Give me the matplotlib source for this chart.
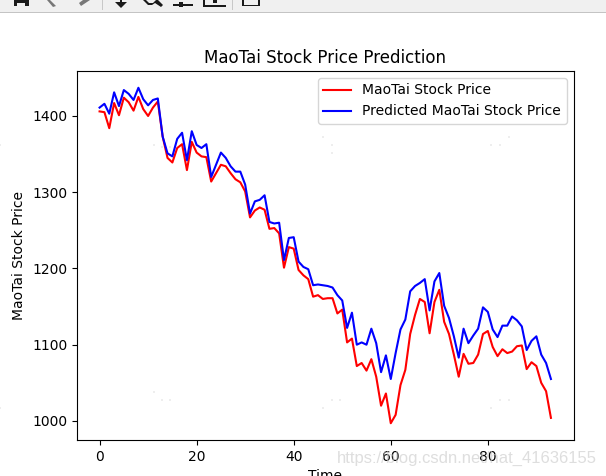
import matplotlib
matplotlib.use("Agg")
import matplotlib.pyplot as plt
from matplotlib.patches import Rectangle, Polygon, Wedge

TITLE = "MaoTai Stock Price Prediction"
XLABEL = "Time"
YLABEL = "MaoTai Stock Price"
ACTUAL_LABEL = "MaoTai Stock Price"
PREDICTED_LABEL = "Predicted MaoTai Stock Price"
WATERMARK = "https://blog.csdn.net/hat_41636155"

actual = [1406, 1405, 1384, 1417, 1401, 1424, 1418, 1407, 1425, 1409,
          1400, 1411, 1419, 1373, 1345, 1339, 1358, 1363, 1329, 1366,
          1352, 1347, 1346, 1314, 1325, 1336, 1334, 1325, 1317, 1313,
          1301, 1267, 1276, 1280, 1277, 1252, 1253, 1246, 1201, 1228,
          1226, 1198, 1191, 1186, 1163, 1165, 1160, 1161, 1161, 1141,
          1146, 1103, 1108, 1072, 1076, 1066, 1081, 1058, 1020, 1036,
          997, 1008, 1047, 1067, 1114, 1139, 1160, 1156, 1115, 1156,
          1172, 1130, 1114, 1087, 1058, 1088, 1075, 1076, 1087, 1114,
          1118, 1097, 1085, 1094, 1089, 1091, 1098, 1099, 1068, 1077,
          1072, 1050, 1039, 1004]
predicted = [1411, 1416, 1403, 1431, 1413, 1434, 1429, 1421, 1437, 1422,
             1414, 1421, 1423, 1373, 1351, 1347, 1370, 1378, 1342, 1380,
             1362, 1358, 1363, 1320, 1336, 1352, 1345, 1334, 1327, 1327,
             1310, 1272, 1288, 1290, 1296, 1261, 1259, 1260, 1211, 1240,
             1241, 1209, 1202, 1199, 1178, 1179, 1178, 1177, 1175, 1165,
             1158, 1122, 1142, 1100, 1103, 1100, 1121, 1102, 1064, 1086,
             1055, 1089, 1120, 1133, 1170, 1177, 1181, 1186, 1145, 1183,
             1194, 1151, 1135, 1111, 1083, 1121, 1102, 1112, 1121, 1149,
             1143, 1120, 1110, 1125, 1125, 1137, 1132, 1124, 1093, 1105,
             1111, 1087, 1076, 1055]

W, H = 606, 476
fig = plt.figure(figsize=(W / 100, H / 100), dpi=100)
L, R, T, B = 77, 573.5, 71, 440
ax = fig.add_axes([L / W, 1 - B / H, (R - L) / W, (B - T) / H])

ax.plot(range(len(actual)), actual, color="red", label=ACTUAL_LABEL)
ax.plot(range(len(predicted)), predicted, color="blue", label=PREDICTED_LABEL)
ax.set_title(TITLE)
ax.set_xlabel(XLABEL)
ax.set_ylabel(YLABEL)
ax.legend()

# Window toolbar strip cropped at the top of the screenshot
def px_rect(x, y, w, h, color):
    fig.add_artist(Rectangle((x / W, 1 - (y + h) / H), w / W, h / H,
                             transform=fig.transFigure, color=color, lw=0))

def px_poly(pts, color):
    fig.add_artist(Polygon([(x / W, 1 - y / H) for x, y in pts],
                           transform=fig.transFigure, color=color, lw=0))

px_rect(0, 0, W, 12, "#f0f0f0")
px_rect(0, 12, W, 1, "#c4c4c4")
px_rect(102, 0, 1, 10, "#c8c8c8")
px_rect(232, 0, 1, 10, "#c8c8c8")
DARK = "#1a1a1a"
px_rect(14, 0, 3, 6, DARK); px_rect(25, 0, 4, 6, DARK); px_rect(14, 0, 15, 3, DARK)
px_poly([(47, 0), (50, 0), (56, 6), (53, 7)], "#777777")
px_poly([(81, 6), (79, 3), (83, 0), (90, 0)], "#777777")
px_rect(120, 0, 2, 6, DARK)
px_poly([(115, 2), (127, 2), (121, 8)], DARK)
# magnifier: lower rim of the lens and its handle
px_poly([(143, 0), (146, 0), (149, 3), (153, 3), (156, 0), (158, 0),
         (163, 5), (161, 7), (155, 3), (152, 5), (148, 5)], DARK)
px_rect(173, 4, 20, 1.5, DARK); px_rect(179, 2, 4, 5, DARK)
px_rect(203, 5, 23, 1.5, DARK); px_rect(203, 0, 1.5, 6, DARK); px_rect(213, 0, 4, 3, DARK)
px_rect(242, 0, 1.5, 6, DARK); px_rect(258, 0, 1.5, 6, DARK); px_rect(242, 4.5, 18, 1.5, DARK)

# faint compression specks present in the screenshot
specks = [(0, 145), (154, 145), (162, 147), (170, 147), (323, 137), (332, 145),
          (332, 153), (491, 145), (500, 145), (509, 137), (0, 408), (154, 392),
          (162, 400), (170, 400), (323, 408), (332, 400), (340, 400), (491, 408),
          (500, 400), (509, 400)]
for sx, sy in specks:
    px_rect(sx - 1, sy - 1, 2, 2, "#eeeeee")

fig.text(597 / W, 1 - 458 / H, WATERMARK, ha="right", va="center",
         fontsize=12, color="#c8c8c8", alpha=0.6,
         family=["Liberation Sans", "DejaVu Sans"])

fig.savefig("out.png", dpi=100)
